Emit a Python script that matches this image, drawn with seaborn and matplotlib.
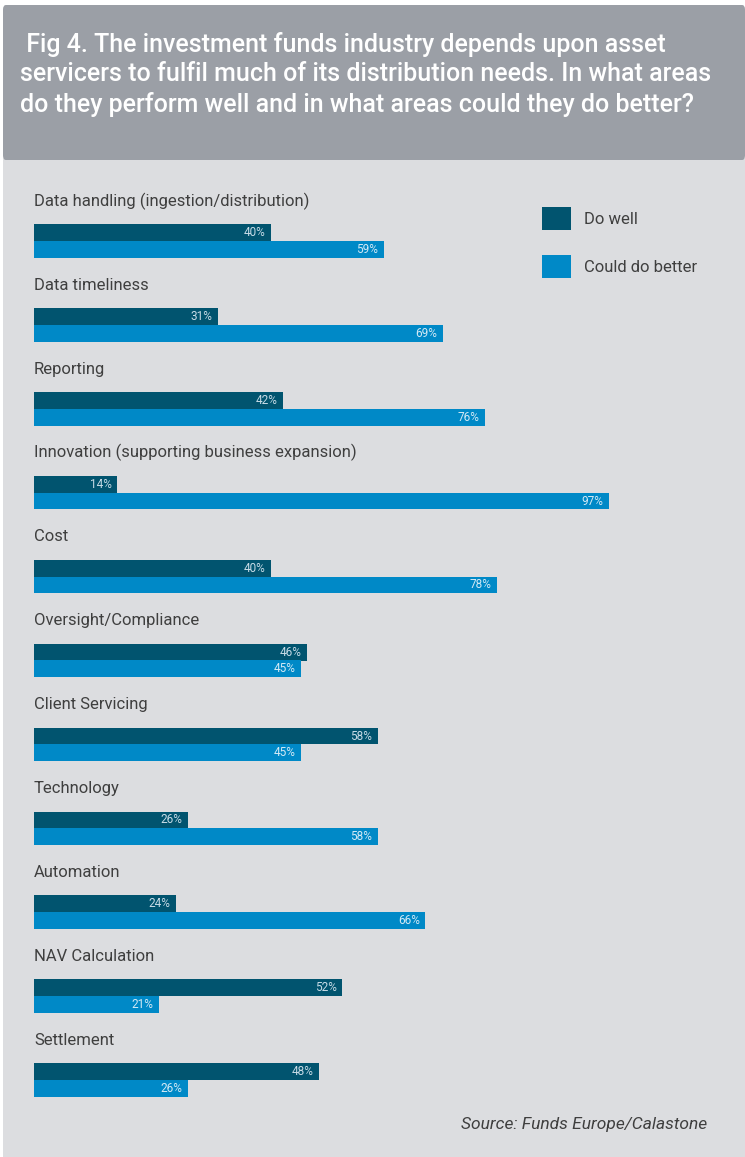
import matplotlib
matplotlib.use("Agg")
import matplotlib.pyplot as plt
from matplotlib.patches import Rectangle, FancyBboxPatch
import seaborn as sns
import pandas as pd

# ---- data -------------------------------------------------------------
categories = [
    "Data handling (ingestion/distribution)",
    "Data timeliness",
    "Reporting",
    "Innovation (supporting business expansion)",
    "Cost",
    "Oversight/Compliance",
    "Client Servicing",
    "Technology",
    "Automation",
    "NAV Calculation",
    "Settlement",
]
do_well = [40, 31, 42, 14, 40, 46, 58, 26, 24, 52, 48]
could_do_better = [59, 69, 76, 97, 78, 45, 45, 58, 66, 21, 26]
series_names = ["Do well", "Could do better"]

title = (" Fig 4. The investment funds industry depends upon asset\n"
         "servicers to fulfil much of its distribution needs. In what areas\n"
         "do they perform well and in what areas could they do better?")
source = "Source: Funds Europe/Calastone"

# ---- styling ----------------------------------------------------------
DARK = "#01546f"
LIGHT = "#0089c7"
PANEL = "#dcdde0"
HEADER = "#9b9fa6"
TEXT = "#3f3f3f"

sns.set_theme(style="white")
plt.rcParams["font.family"] = ["Roboto", "DejaVu Sans"]

W, H = 745, 1157
fig = plt.figure(figsize=(W / 100, H / 100), dpi=100, facecolor="white")


def fx(px):
    return px / W


def fy(py):
    return 1 - py / H


# background panel and header band (behind the axes)
fig.patches.append(Rectangle((fx(3), 0), 1 - fx(3), fy(158), transform=fig.transFigure,
                             facecolor=PANEL, edgecolor="none", zorder=-2))
fig.patches.append(FancyBboxPatch((fx(3), fy(160)), 1 - fx(3), fy(5) - fy(160),
                                  boxstyle="round,pad=0,rounding_size=0.004",
                                  transform=fig.transFigure, facecolor=HEADER,
                                  edgecolor="none", zorder=-1))
fig.text(fx(20), fy(32), title, ha="left", va="top", color="white",
         fontsize=18, fontweight="medium", linespacing=1.28)

# ---- bars -------------------------------------------------------------
df = pd.DataFrame({
    "category": categories * 2,
    "series": [series_names[0]] * len(categories) + [series_names[1]] * len(categories),
    "value": do_well + could_do_better,
})

n = len(categories)
top_px, bot_px = 199, 1122
ax = fig.add_axes([fx(34), fy(bot_px), fx(593), (bot_px - top_px) / H])
ax.patch.set_alpha(0)
sns.barplot(data=df, y="category", x="value", hue="series", orient="h",
            palette=[DARK, LIGHT], width=0.4, dodge=True, ax=ax,
            saturation=1, linewidth=0)
ax.set_xlim(0, 100)
ax.set_ylim(n - 0.5, -0.5)
ax.set_axis_off()

# value labels inside the bar ends
label_colors = ["#c7dbe6", "#d3e9f5"]
for cont, lc in zip(ax.containers, label_colors):
    for patch, val in zip(cont.patches, cont.datavalues):
        ax.annotate(f"{val:.0f}%", xy=(val, patch.get_y() + patch.get_height() / 2),
                    xytext=(-4, 0), textcoords="offset points",
                    ha="right", va="center", fontsize=8.5, color=lc)

# category names above each pair of bars
for i, cat in enumerate(categories):
    ax.text(0, i - 0.42, cat, ha="left", va="baseline", fontsize=12,
            fontweight="normal", color=TEXT, clip_on=False)

# legend
handles, labels = ax.get_legend_handles_labels()
leg = ax.legend(handles, labels, loc="upper left",
                bbox_to_anchor=(fx(542), fy(207)), bbox_transform=fig.transFigure,
                frameon=False, fontsize=12, handlelength=1.75, handleheight=1.75,
                handletextpad=0.75, labelspacing=1.5, borderpad=0, borderaxespad=0,
                labelcolor=TEXT)

fig.text(fx(707), fy(1124), source, ha="right", va="center", fontsize=12.5,
         fontstyle="italic", fontweight="normal", color=TEXT)

fig.savefig("out.png", dpi=100, facecolor="white")
